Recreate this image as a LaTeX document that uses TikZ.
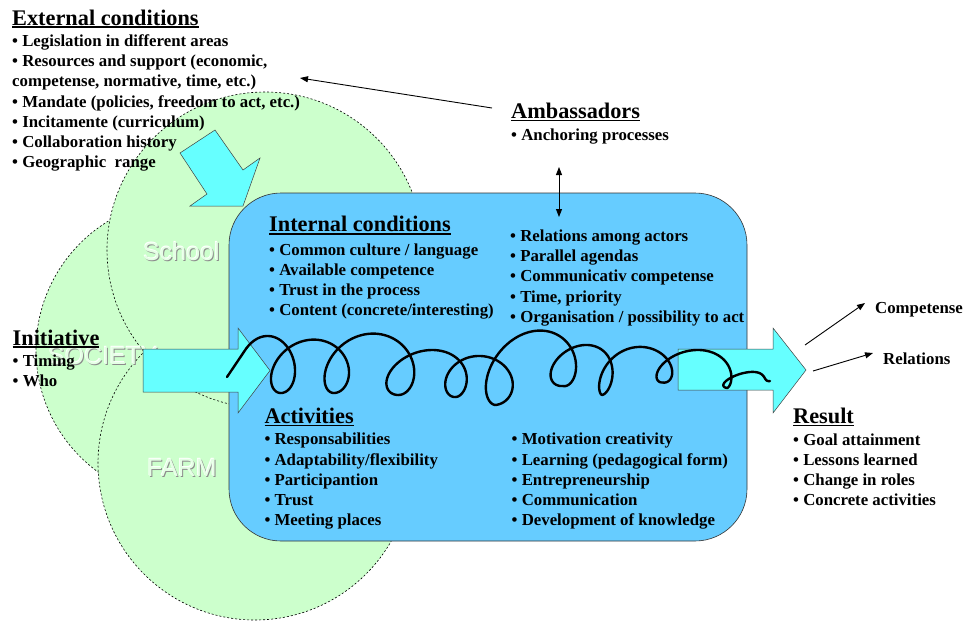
\documentclass[tikz,border=0pt]{standalone}
\usepackage{fontspec}
\setmainfont{Liberation Serif}
\newfontfamily\lsans{Liberation Sans}
\usetikzlibrary{arrows.meta}
\definecolor{cgreen}{HTML}{CCFFCC}
\definecolor{cblue}{HTML}{66CCFF}
\definecolor{ccyan}{HTML}{66FFFF}
\newcommand\headul[1]{\setbox0\hbox{#1}\rlap{\rule[-2.8pt]{\wd0}{1.6pt}}\box0}
\tikzset{
  venn/.style={circle, inner sep=0pt, fill=cgreen, draw=black, dash pattern=on 2pt off 2pt, line width=0.6pt},
  body/.style={anchor=base west, inner sep=0pt, font=\bfseries\fontsize{16.8}{20}\selectfont},
  head/.style={anchor=base west, inner sep=0pt, font=\bfseries\fontsize{22.3}{26}\selectfont},
  bigarrow/.style={fill=ccyan, draw=black!75, line width=0.5pt, line join=miter},
  thinarrow/.style={-{Triangle[length=8pt,width=6pt]}, line width=0.9pt},
  dblarrow/.style={{Triangle[length=8pt,width=6pt]}-{Triangle[length=8pt,width=6pt]}, line width=0.9pt},
  curl/.style={line width=2.4pt, line cap=round, line join=round},
  emb/.style={anchor=base west, inner sep=0pt, font=\lsans\fontsize{25}{30}\selectfont},
}
\begin{document}
\begin{tikzpicture}[x=1pt,y=-1pt]
\useasboundingbox (0,0) rectangle (966,622);
% circles
\node[venn, minimum size=302pt] (society) at (187,350) {};
\node[venn, minimum size=314pt] (farm) at (255,463) {};
\node[venn, minimum size=316pt] (school) at (265,250) {};
% circle labels
\foreach \nm/\px/\py/\tx in {school/143/260/School, society/48/364/SOCIETY, farm/147/476/FARM}{
  \node[emb, text=black!45] (\nm-s) at (\px+1,\py+1) {\tx};
  \node[emb, text=white] (\nm-h) at (\px-0.6,\py-0.6) {\tx};
  \node[emb, text=cgreen!50!white] (\nm-l) at (\px,\py) {\tx};
}
% main rounded box
\node[draw=black!80, fill=cblue, line width=0.6pt, rounded corners=52pt, minimum width=518pt, minimum height=348pt, inner sep=0pt] (box) at (488,367) {};
% down-right arrow
\draw[bigarrow] (180,153) -- (215,130) -- (243,170) -- (260,158) -- (243,206) -- (190,206) -- (207,194) -- cycle;
% left big arrow
\draw[bigarrow] (143,349) -- (238,349) -- (238,328) -- (270,370.5) -- (238,413) -- (238,392) -- (143,392) -- cycle;
% right big arrow
\draw[bigarrow] (678,349) -- (773,349) -- (773,328) -- (806,370) -- (773,413) -- (773,390) -- (678,390) -- cycle;
% curly line
\coordinate (cstart) at (227,377);
\coordinate (cfirst) at (246.4,348.2);
\draw[curl] (cstart) -- (cfirst);
\foreach \xa/\ya/\ba/\xb/\yb/\bb/\hh/\tA/\tB in {
  240/395/13/280.7/393/23/58/2.2/6.2832,
  280.7/393/23/334/393/25/53.4/0/6.2832,
  334/393/25/398.6/395/28/60.4/0/6.2832,
  398.6/395/28/455.7/397/20/46/0/6.2832,
  455.7/397/20/495/405/26/45/0/6.2832,
  495/405/26/563/386/25/64.8/0/6.2832,
  563/386/25/602/395/15/45.5/0/6.2832,
  602/395/15/663/382.5/22/41.75/0/6.2832,
  663/382.5/22/727/388/15/35.25/0/6.2832,
  727/388/15/770/381/0/12.5/0/6.2832}{
  \draw[curl] plot[variable=\t, domain=\tA:\tB, samples=80, smooth]
    ({\xa+(\xb-\xa)*\t/6.2832-(\ba+(\bb-\ba)*\t/6.2832)*sin(\t r)+0.12*\hh*(1-cos(\t r))/2},
     {\ya+(\yb-\ya)*\t/6.2832-\hh*(1-cos(\t r))/2});
}
% External conditions
\node[head] (ext) at (12,25) {\headul{External conditions}};
\node[body] (ext1) at (12,46.5) {\textbullet\ Legislation in different areas};
\node[body] (ext2) at (12,66.7) {\textbullet\ Resources and support (economic,};
\node[body] (ext3) at (12,86.5) {competense, normative, time, etc.)};
\node[body] (ext4) at (12,107) {\textbullet\ Mandate (policies, freedom to act, etc.)};
\node[body] (ext5) at (12,127.5) {\textbullet\ Incitamente (curriculum)};
\node[body] (ext6) at (12,147.5) {\textbullet\ Collaboration history};
\node[body] (ext7) at (12,167) {\textbullet\ Geographic\ \ range};
% Ambassadors
\node[head] (amb) at (511,118.5) {\headul{Ambassadors}};
\node[body] (amb1) at (511,140) {\textbullet\ Anchoring processes};
% Internal conditions
\node[head] (int) at (269,231.7) {\headul{Internal conditions}};
\node[body] (int1) at (269,255) {\textbullet\ Common culture / language};
\node[body] (int2) at (269,275) {\textbullet\ Available competence};
\node[body] (int3) at (269,295) {\textbullet\ Trust in the process};
\node[body] (int4) at (269,315) {\textbullet\ Content (concrete/interesting)};
\node[body] (intr1) at (510,241.7) {\textbullet\ Relations among actors};
\node[body] (intr2) at (510,261.7) {\textbullet\ Parallel agendas};
\node[body] (intr3) at (510,281.7) {\textbullet\ Communicativ competense};
\node[body] (intr4) at (510,302.5) {\textbullet\ Time, priority};
\node[body] (intr5) at (510,322.7) {\textbullet\ Organisation / possibility to act};
% Activities
\node[head] (act) at (264.3,423.3) {\headul{Activities}};
\node[body] (act1) at (264.3,444.3) {\textbullet\ Responsabilities};
\node[body] (act2) at (264.3,465) {\textbullet\ Adaptability/flexibility};
\node[body] (act3) at (264.3,485.3) {\textbullet\ Participantion};
\node[body] (act4) at (264.3,505.5) {\textbullet\ Trust};
\node[body] (act5) at (264.3,525.7) {\textbullet\ Meeting places};
\node[body] (actr1) at (511.5,444.3) {\textbullet\ Motivation creativity};
\node[body] (actr2) at (511.5,465) {\textbullet\ Learning (pedagogical form)};
\node[body] (actr3) at (511.5,485.3) {\textbullet\ Entrepreneurship};
\node[body] (actr4) at (511.5,505.5) {\textbullet\ Communication};
\node[body] (actr5) at (511.5,525.7) {\textbullet\ Development of knowledge};
% Initiative
\node[head] (ini) at (12.5,345) {\headul{Initiative}};
\node[body] (ini1) at (12.5,366.7) {\textbullet\ Timing};
\node[body] (ini2) at (12.5,386.7) {\textbullet\ Who};
% Result
\node[head] (res) at (793,423.3) {\headul{Result}};
\node[body] (res1) at (793,445) {\textbullet\ Goal attainment};
\node[body] (res2) at (793,465.3) {\textbullet\ Lessons learned};
\node[body] (res3) at (793,485.7) {\textbullet\ Change in roles};
\node[body] (res4) at (793,505.7) {\textbullet\ Concrete activities};
% outcomes
\node[body] (comp) at (875,313) {Competense};
\node[body] (rel) at (883,364) {Relations};
% connectors
\coordinate (ambfrom) at (492,108);
\coordinate (extto) at (300,78);
\draw[thinarrow] (ambfrom) -- (extto);
\coordinate (dbA) at (559,167);
\coordinate (dbB) at (559,217);
\draw[dblarrow] (dbA) -- (dbB);
\coordinate (compfrom) at (805,345);
\coordinate (compto) at (865,303);
\draw[thinarrow] (compfrom) -- (compto);
\coordinate (relfrom) at (813,371);
\coordinate (relto) at (873,353);
\draw[thinarrow] (relfrom) -- (relto);
\end{tikzpicture}
\end{document}
